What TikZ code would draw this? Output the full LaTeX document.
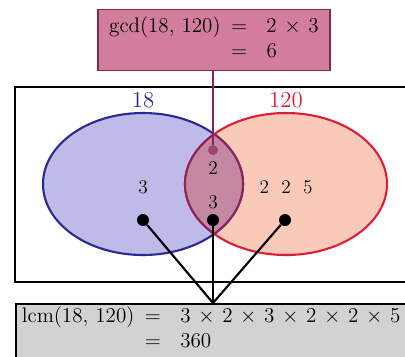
\documentclass[tikz,border=0pt]{standalone}
\usepackage{amsmath, amssymb}
\usepackage{xcolor}
\usetikzlibrary{arrows.meta, positioning, calc}
\definecolor{setblue}{RGB}{45, 40, 150}
\definecolor{setbluefill}{RGB}{190, 187, 232}
\definecolor{setred}{RGB}{222, 30, 55}
\definecolor{setredfill}{RGB}{250, 202, 185}
\definecolor{lensfill}{RGB}{196, 136, 162}
\definecolor{lensline}{RGB}{140, 35, 90}
\definecolor{gcdfill}{RGB}{210, 125, 155}
\definecolor{gcdline}{RGB}{130, 40, 75}
\definecolor{lcmfill}{RGB}{210, 210, 210}
\newcommand{\wideops}{\medmuskip=6.5mu\relax}

\begin{document}
\begin{tikzpicture}[
  x=0.02cm, y=-0.02cm,
  mathbox/.style={rectangle, draw, line width=1pt, font=\fontsize{12.5}{14}\selectfont, align=left},
  dot/.style={circle, fill=black, inner sep=0pt, minimum size=0.24cm},
  num/.style={font=\fontsize{11}{13}\selectfont, inner sep=1pt},
  link/.style={line width=1.2pt}
]
\useasboundingbox (0,0) rectangle (405,356);

% outer frame
\draw[line width=1.2pt] (15,87) rectangle (430,282);

% the two sets
\fill[setbluefill] (143,184) ellipse [x radius=100, y radius=71];
\fill[setredfill] (286,184) ellipse [x radius=101, y radius=71];
\draw[setblue, line width=1.2pt] (143,184) ellipse [x radius=100, y radius=71];
\draw[setred, line width=1.2pt] (286,184) ellipse [x radius=101, y radius=71];

% intersection
\begin{scope}
  \clip (143,184) ellipse [x radius=100, y radius=71];
  \fill[lensfill] (286,184) ellipse [x radius=101, y radius=71];
  \draw[lensline, line width=1.2pt] (286,184) ellipse [x radius=101, y radius=71];
\end{scope}
\begin{scope}
  \clip (286,184) ellipse [x radius=101, y radius=71];
  \draw[lensline, line width=1.2pt] (143,184) ellipse [x radius=100, y radius=71];
\end{scope}

% set names
\node[text=setblue, font=\fontsize{13}{15}\selectfont] (nameA) at (143,100) {18};
\node[text=setred, font=\fontsize{13}{15}\selectfont] (nameB) at (286,100) {120};

% prime factors
\node[num] (onlyA) at (143,187) {3};
\node[num] (both2) at (213,168) {2};
\node[num] (both3) at (213,202) {3};
\node[num] (onlyB) at (286,187) {2\hspace{7pt}2\hspace{7pt}5};

% gcd box
\node[mathbox, draw=gcdline, fill=gcdfill, inner xsep=0.16cm, minimum width=4.64cm, minimum height=1.14cm] (gcd) at (214,40)
  {$\wideops\begin{array}{@{}r@{\hspace{6pt}}c@{\hspace{11pt}}l@{}}\gcd(18,\,120) & = & 2\times 3\\ & = & 6\end{array}$};
\node[circle, fill=lensline!85, inner sep=0pt, minimum size=0.2cm] (gdot) at (213,150) {};
\draw[lensline, line width=0.8pt] (gdot) -- (gdot |- gcd.south);

% lcm box
\node[mathbox, fill=lcmfill, anchor=north west, inner xsep=0.12cm, inner ysep=0.03cm, text depth=0.8cm] (lcm) at (15,303)
  {$\wideops\begin{array}{@{}r@{\hspace{6pt}}c@{\hspace{11pt}}l@{}}\operatorname{lcm}(18,\,120) & = & 3\times 2\times 3\times 2\times 2\times 5\\ & = & 360\end{array}$};

% links to lcm
\node[dot] (dA) at (143,220) {};
\node[dot] (dAB) at (213,220) {};
\node[dot] (dB) at (285,220) {};
\coordinate (meet) at (dAB |- lcm.north);
\draw[link] (dA) -- (meet);
\draw[link] (dAB) -- (meet);
\draw[link] (dB) -- (meet);
\end{tikzpicture}
\end{document}
